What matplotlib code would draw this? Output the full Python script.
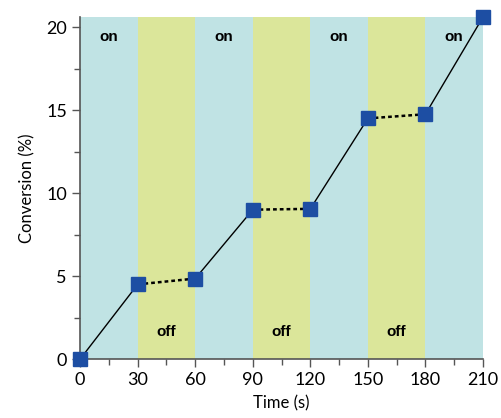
import matplotlib.pyplot as plt
import numpy as np

time_s = [0, 30, 60, 90, 120, 150, 180, 210]
conversion = [0.0, 4.5, 4.85, 9.0, 9.05, 14.5, 14.75, 20.6]
period_edges = [0, 30, 60, 90, 120, 150, 180, 210]
period_state = ["on", "off", "on", "off", "on", "off", "on"]

on_color = "#c0e3e4"
off_color = "#dbe69a"
marker_color = "#1d4ea3"

plt.rcParams['font.family'] = ['Lato', 'DejaVu Sans']

fig = plt.figure(figsize=(5.01, 4.18), dpi=100)
ax = fig.add_axes([0.160, 0.141, 0.804, 0.818])

# background bands
for i, state in enumerate(period_state):
    x0, x1 = period_edges[i], period_edges[i + 1]
    ax.axvspan(x0, x1, color=on_color if state == "on" else off_color, lw=0, zorder=0)
    mid = (x0 + x1) / 2
    if state == "on":
        ax.text(mid, 19.4, "on", ha="center", va="center", fontsize=11,
                fontweight="bold", family="Liberation Sans")
    else:
        ax.text(mid, 1.65, "off", ha="center", va="center", fontsize=11,
                fontweight="bold", family="Liberation Sans")

# segments: solid while light on, dotted while off
for i, state in enumerate(period_state):
    xs = time_s[i:i + 2]
    ys = conversion[i:i + 2]
    if state == "on":
        ax.plot(xs, ys, color="black", lw=1, zorder=2)
    else:
        ax.plot(xs, ys, color="black", lw=1.8, ls=(0, (1.5, 1.2)), zorder=2)

ax.plot(time_s, conversion, ls="none", marker="s", ms=9.5, color=marker_color,
        zorder=3, clip_on=False)

ax.set_xlim(0, 210)
ax.set_ylim(0, 20.6)
ax.set_xticks(np.arange(0, 211, 30))
ax.set_xticks(np.arange(15, 211, 30), minor=True)
ax.set_yticks([0, 5, 10, 15, 20])
ax.set_yticks(np.arange(2.5, 20.6, 5), minor=True)

for s in ["top", "right"]:
    ax.spines[s].set_visible(False)
for s in ["left", "bottom"]:
    ax.spines[s].set_color("#555555")
    ax.spines[s].set_linewidth(1.2)

ax.tick_params(which="both", direction="out", color="#555555", width=1)
ax.tick_params(which="major", length=6, labelsize=13)
ax.tick_params(which="minor", length=4)

ax.set_xlabel("Time (s)", fontsize=12, labelpad=5)
ax.set_ylabel("Conversion (%)", fontsize=12, labelpad=8)

fig.savefig("out.png", dpi=100)
